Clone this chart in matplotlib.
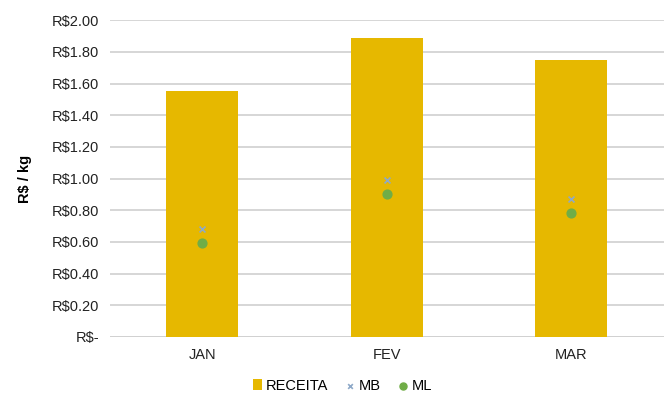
import matplotlib
matplotlib.use('Agg')
import matplotlib.pyplot as plt
from matplotlib.ticker import FuncFormatter

# data
months = ['JAN', 'FEV', 'MAR']
receita = [1.55, 1.89, 1.75]
mb = [0.68, 0.99, 0.87]
ml = [0.59, 0.90, 0.78]

plt.rcParams['font.family'] = ['Liberation Sans', 'DejaVu Sans']

fig = plt.figure(figsize=(6.67, 4.03), dpi=100)
ax = fig.add_axes([0.165, 0.164, 0.830, 0.786])

x = list(range(len(months)))
b = ax.bar(x, receita, width=0.39, color='#E6B800', label='RECEITA', zorder=2)
s1 = ax.scatter(x, mb, marker='x', s=18, color='#8EA9C8', linewidths=1.2, label='MB', zorder=3)
s2 = ax.scatter(x, ml, marker='o', s=40, color='#70AD47', label='ML', zorder=3)

ax.set_xlim(-0.5, 2.5)
ax.set_ylim(0, 2.0)
ax.set_yticks([i * 0.2 for i in range(11)])

def fmt(v, pos):
    if abs(v) < 1e-9:
        return 'R$-'
    return 'R$%.2f' % v

ax.yaxis.set_major_formatter(FuncFormatter(fmt))
ax.set_xticks(x)
ax.set_xticklabels(months)
ax.tick_params(axis='both', length=0, labelsize=10.5, colors='#222222', pad=8)
ax.grid(axis='y', color='#D0D0D0', linewidth=1.2, zorder=0)
ax.set_axisbelow(True)
for s in ax.spines.values():
    s.set_visible(False)
ax.axhline(0, color='#D0D0D0', linewidth=1.2, zorder=1)

ax.set_ylabel('R$ / kg', fontsize=10.5, fontweight='bold', labelpad=14)

ax.legend([b, s1, s2], ['RECEITA', 'MB', 'ML'], loc='upper center',
          bbox_to_anchor=(0.42, -0.09), ncol=3, frameon=False,
          fontsize=10.5, handlelength=0.6, handletextpad=0.3, columnspacing=1.2,
          markerscale=0.8)

fig.savefig('out.png', dpi=100)
